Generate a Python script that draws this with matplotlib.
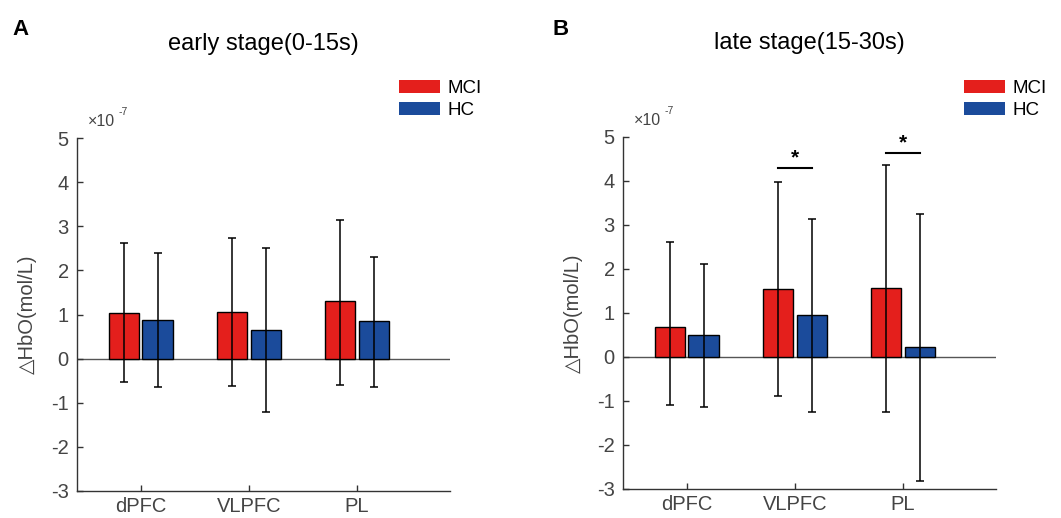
import matplotlib
matplotlib.use("Agg")
import matplotlib.pyplot as plt
from matplotlib.patches import Patch
import numpy as np

plt.rcParams['font.family'] = ['Liberation Sans', 'DejaVu Sans']

regions = ['dPFC', 'VLPFC', 'PL']
groups = ['MCI', 'HC']

early_mci = [1.04, 1.05, 1.315]
early_mci_lo = [-0.52, -0.61, -0.59]
early_mci_hi = [2.61, 2.73, 3.14]
early_hc = [0.875, 0.64, 0.85]
early_hc_lo = [-0.635, -1.22, -0.635]
early_hc_hi = [2.39, 2.51, 2.30]

late_mci = [0.673, 1.547, 1.576]
late_mci_lo = [-1.085, -0.887, -1.245]
late_mci_hi = [2.61, 3.98, 4.36]
late_hc = [0.49, 0.946, 0.227]
late_hc_lo = [-1.13, -1.245, -2.81]
late_hc_hi = [2.115, 3.13, 3.24]

late_sig_idx = [1, 2]
late_sig_y = [4.30, 4.64]

yticks = [-3, -2, -1, 0, 1, 2, 3, 4, 5]

RED = '#E41F1C'
BLUE = '#1B4B9B'
GRAY = '#444444'

W, H = 1061, 518
fig = plt.figure(figsize=(W / 100, H / 100), dpi=100)


def px_axes(x0, y0, x1, y1):
    return fig.add_axes([x0 / W, 1 - y1 / H, (x1 - x0) / W, (y1 - y0) / H])


def panel(ax, mci, mlo, mhi, hc, hlo, hhi, title):
    x = np.arange(1, len(regions) + 1)
    bw = 0.28
    off = 0.155
    ax.axhline(0, color='#555555', lw=1.0, zorder=1)
    ax.bar(x - off, mci, bw, color=RED, edgecolor='black', lw=1.0, zorder=2)
    ax.bar(x + off, hc, bw, color=BLUE, edgecolor='black', lw=1.0, zorder=2)
    m = np.array(mci); h = np.array(hc)
    ax.errorbar(x - off, m, yerr=[m - np.array(mlo), np.array(mhi) - m],
                fmt='none', ecolor='black', elinewidth=1.1, capsize=2.6, capthick=1.1, zorder=3)
    ax.errorbar(x + off, h, yerr=[h - np.array(hlo), np.array(hhi) - h],
                fmt='none', ecolor='black', elinewidth=1.1, capsize=2.6, capthick=1.1, zorder=3)
    ax.set_xlim(0.41, 3.86)
    ax.set_ylim(-3, 5)
    ax.set_yticks(yticks)
    ax.set_yticklabels([str(t) for t in yticks])
    ax.set_xticks(x)
    ax.set_xticklabels(regions)
    for s in ['top', 'right']:
        ax.spines[s].set_visible(False)
    for s in ['left', 'bottom']:
        ax.spines[s].set_color('#333333')
        ax.spines[s].set_linewidth(1.0)
    ax.tick_params(direction='in', length=4, width=1.0, colors='#333333',
                   labelsize=14.5, labelcolor=GRAY, pad=6)
    ax.tick_params(axis='x', pad=4)
    ax.set_ylabel('\u25b3HbO(mol/L)', fontsize=14.5, color=GRAY, labelpad=10)
    ax.set_title(title, fontsize=17, pad=0, y=1.25)
    ax.text(0.03, 1.025, '\u00d710', transform=ax.transAxes, fontsize=11.5,
            color=GRAY, ha='left', va='bottom')
    ax.text(0.112, 1.06, '-7', transform=ax.transAxes, fontsize=7.5,
            color=GRAY, ha='left', va='bottom')
    handles = [Patch(facecolor=RED, edgecolor='none'), Patch(facecolor=BLUE, edgecolor='none')]
    return x, off, handles


axA = px_axes(77, 138, 450, 491)
x, off, handles = panel(axA, early_mci, early_mci_lo, early_mci_hi,
                        early_hc, early_hc_lo, early_hc_hi, 'early stage(0-15s)')
axA.legend(handles, groups, loc='upper left', bbox_to_anchor=(399 / W, 1 - 80 / H),
           bbox_transform=fig.transFigure, frameon=False, fontsize=13.5,
           handlelength=2.2, handleheight=0.7, handletextpad=0.4,
           labelspacing=0.25, borderpad=0, borderaxespad=0)

axB = px_axes(623, 137, 996, 489)
x, off, handles = panel(axB, late_mci, late_mci_lo, late_mci_hi,
                        late_hc, late_hc_lo, late_hc_hi, 'late stage(15-30s)')
axB.legend(handles, groups, loc='upper left', bbox_to_anchor=(964 / W, 1 - 80 / H),
           bbox_transform=fig.transFigure, frameon=False, fontsize=13.5,
           handlelength=2.2, handleheight=0.7, handletextpad=0.4,
           labelspacing=0.25, borderpad=0, borderaxespad=0)
for i, yv in zip(late_sig_idx, late_sig_y):
    xc = x[i]
    axB.plot([xc - off, xc + off], [yv, yv], color='black', lw=1.5, zorder=4)
    axB.text(xc, yv + 0.23, '*', ha='center', va='center', fontsize=15,
             fontweight='bold', color='black')

fig.text(12 / W, 1 - 19 / H, 'A', fontsize=16, fontweight='bold', va='top', ha='left')
fig.text(552 / W, 1 - 19 / H, 'B', fontsize=16, fontweight='bold', va='top', ha='left')

fig.savefig('out.png', dpi=100)
